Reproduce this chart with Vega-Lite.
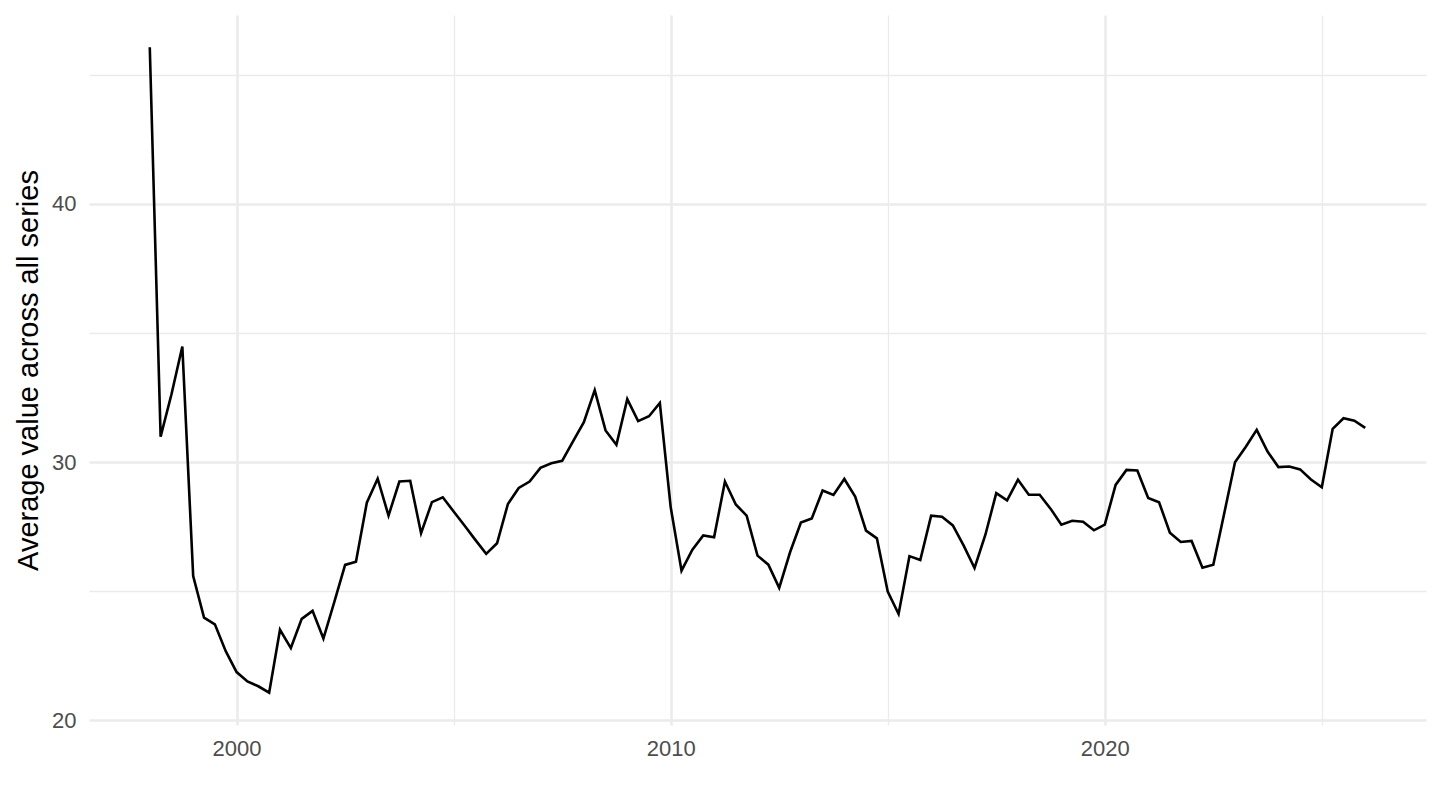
{
  "$schema": "https://vega.github.io/schema/vega-lite/v6.json",
  "width": 1337,
  "height": 710,
  "autosize": {"type": "none"},
  "padding": {"left": 89, "top": 15, "right": 14, "bottom": 85},
  "background": "white",
  "config": {
    "view": {"stroke": null},
    "font": "Liberation Sans"
  },
  "data": {
    "values": [
      {"year": 1998.00, "value": 46.07},
      {"year": 1998.25, "value": 30.99},
      {"year": 1998.50, "value": 32.63},
      {"year": 1998.75, "value": 34.48},
      {"year": 1999.00, "value": 25.59},
      {"year": 1999.25, "value": 23.98},
      {"year": 1999.50, "value": 23.72},
      {"year": 1999.75, "value": 22.68},
      {"year": 2000.00, "value": 21.87},
      {"year": 2000.25, "value": 21.51},
      {"year": 2000.50, "value": 21.32},
      {"year": 2000.75, "value": 21.07},
      {"year": 2001.00, "value": 23.51},
      {"year": 2001.25, "value": 22.80},
      {"year": 2001.50, "value": 23.93},
      {"year": 2001.75, "value": 24.24},
      {"year": 2002.00, "value": 23.17},
      {"year": 2002.25, "value": 24.58},
      {"year": 2002.50, "value": 26.02},
      {"year": 2002.75, "value": 26.14},
      {"year": 2003.00, "value": 28.43},
      {"year": 2003.25, "value": 29.36},
      {"year": 2003.50, "value": 27.93},
      {"year": 2003.75, "value": 29.25},
      {"year": 2004.00, "value": 29.28},
      {"year": 2004.25, "value": 27.25},
      {"year": 2004.50, "value": 28.45},
      {"year": 2004.75, "value": 28.64},
      {"year": 2005.00, "value": 28.09},
      {"year": 2005.25, "value": 27.55},
      {"year": 2005.50, "value": 26.99},
      {"year": 2005.75, "value": 26.45},
      {"year": 2006.00, "value": 26.86},
      {"year": 2006.25, "value": 28.38},
      {"year": 2006.50, "value": 29.00},
      {"year": 2006.75, "value": 29.25},
      {"year": 2007.00, "value": 29.78},
      {"year": 2007.25, "value": 29.96},
      {"year": 2007.50, "value": 30.05},
      {"year": 2007.75, "value": 30.81},
      {"year": 2008.00, "value": 31.55},
      {"year": 2008.25, "value": 32.79},
      {"year": 2008.50, "value": 31.23},
      {"year": 2008.75, "value": 30.67},
      {"year": 2009.00, "value": 32.44},
      {"year": 2009.25, "value": 31.59},
      {"year": 2009.50, "value": 31.78},
      {"year": 2009.75, "value": 32.29},
      {"year": 2010.00, "value": 28.26},
      {"year": 2010.25, "value": 25.80},
      {"year": 2010.50, "value": 26.61},
      {"year": 2010.75, "value": 27.16},
      {"year": 2011.00, "value": 27.09},
      {"year": 2011.25, "value": 29.25},
      {"year": 2011.50, "value": 28.36},
      {"year": 2011.75, "value": 27.93},
      {"year": 2012.00, "value": 26.38},
      {"year": 2012.25, "value": 26.03},
      {"year": 2012.50, "value": 25.13},
      {"year": 2012.75, "value": 26.51},
      {"year": 2013.00, "value": 27.66},
      {"year": 2013.25, "value": 27.82},
      {"year": 2013.50, "value": 28.90},
      {"year": 2013.75, "value": 28.73},
      {"year": 2014.00, "value": 29.35},
      {"year": 2014.25, "value": 28.67},
      {"year": 2014.50, "value": 27.35},
      {"year": 2014.75, "value": 27.05},
      {"year": 2015.00, "value": 24.99},
      {"year": 2015.25, "value": 24.12},
      {"year": 2015.50, "value": 26.36},
      {"year": 2015.75, "value": 26.21},
      {"year": 2016.00, "value": 27.93},
      {"year": 2016.25, "value": 27.89},
      {"year": 2016.50, "value": 27.55},
      {"year": 2016.75, "value": 26.77},
      {"year": 2017.00, "value": 25.90},
      {"year": 2017.25, "value": 27.19},
      {"year": 2017.50, "value": 28.80},
      {"year": 2017.75, "value": 28.52},
      {"year": 2018.00, "value": 29.32},
      {"year": 2018.25, "value": 28.74},
      {"year": 2018.50, "value": 28.74},
      {"year": 2018.75, "value": 28.20},
      {"year": 2019.00, "value": 27.58},
      {"year": 2019.25, "value": 27.73},
      {"year": 2019.50, "value": 27.69},
      {"year": 2019.75, "value": 27.36},
      {"year": 2020.00, "value": 27.58},
      {"year": 2020.25, "value": 29.12},
      {"year": 2020.50, "value": 29.70},
      {"year": 2020.75, "value": 29.68},
      {"year": 2021.00, "value": 28.61},
      {"year": 2021.25, "value": 28.45},
      {"year": 2021.50, "value": 27.27},
      {"year": 2021.75, "value": 26.91},
      {"year": 2022.00, "value": 26.95},
      {"year": 2022.25, "value": 25.91},
      {"year": 2022.50, "value": 26.03},
      {"year": 2022.75, "value": 28.00},
      {"year": 2023.00, "value": 30.00},
      {"year": 2023.25, "value": 30.60},
      {"year": 2023.50, "value": 31.25},
      {"year": 2023.75, "value": 30.41},
      {"year": 2024.00, "value": 29.81},
      {"year": 2024.25, "value": 29.83},
      {"year": 2024.50, "value": 29.72},
      {"year": 2024.75, "value": 29.33},
      {"year": 2025.00, "value": 29.03},
      {"year": 2025.25, "value": 31.29},
      {"year": 2025.50, "value": 31.70},
      {"year": 2025.75, "value": 31.61},
      {"year": 2026.00, "value": 31.33}
    ]
  },
  "mark": {"type": "line", "color": "black", "strokeWidth": 2.6, "strokeJoin": "miter", "strokeCap": "butt"},
  "encoding": {
    "x": {
      "field": "year",
      "type": "quantitative",
      "scale": {"domain": [1996.6, 2027.4], "nice": false, "zero": false},
      "axis": {
        "title": null,
        "values": [2000, 2005, 2010, 2015, 2020, 2025],
        "labelExpr": "datum.value % 10 === 0 ? toString(datum.value) : ''",
        "domain": false,
        "ticks": false,
        "labelPadding": 13,
        "labelFontSize": 22,
        "labelColor": "#4D4D4D",
        "labelFont": "Liberation Sans",
        "grid": true,
        "gridColor": "#EBEBEB",
        "gridWidth": {"condition": {"test": "datum.value % 10 === 0", "value": 2.6}, "value": 1.3}
      }
    },
    "y": {
      "field": "value",
      "type": "quantitative",
      "scale": {"domain": [19.82, 47.32], "nice": false, "zero": false},
      "axis": {
        "title": "Average value across all series",
        "titleFont": "Liberation Sans",
        "titleFontSize": 29,
        "titleFontWeight": "normal",
        "titleColor": "black",
        "titleAngle": -90,
        "titleAlign": "center",
        "titleBaseline": "alphabetic",
        "titleX": -52,
        "titleY": 355,
        "values": [20, 25, 30, 35, 40, 45],
        "labelExpr": "datum.value % 10 === 0 ? toString(datum.value) : ''",
        "domain": false,
        "ticks": false,
        "labelPadding": 13,
        "labelFontSize": 22,
        "labelColor": "#4D4D4D",
        "labelFont": "Liberation Sans",
        "grid": true,
        "gridColor": "#EBEBEB",
        "gridWidth": {"condition": {"test": "datum.value % 10 === 0", "value": 2.6}, "value": 1.3}
      }
    }
  }
}
